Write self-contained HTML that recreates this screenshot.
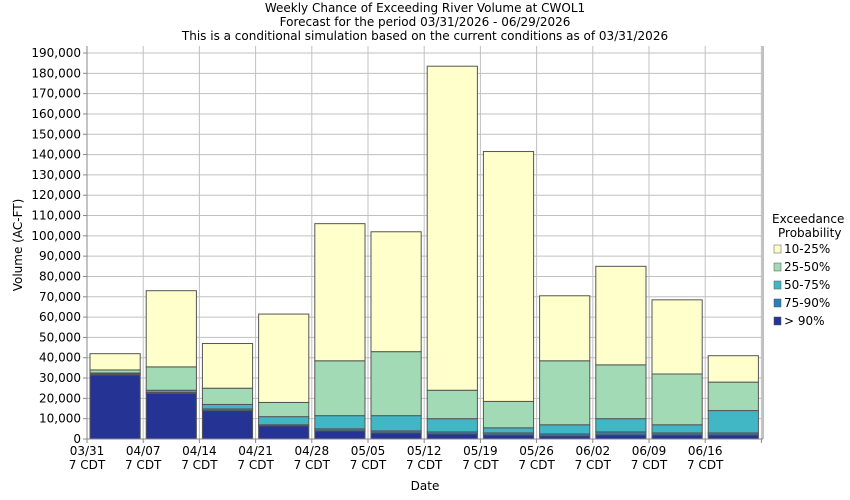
<!DOCTYPE html>
<html><head><meta charset="utf-8"><style>
body{margin:0;background:#fff;}
svg{display:block;font-family:"DejaVu Sans","Liberation Sans",sans-serif;}
</style></head><body>
<svg id="c" width="850" height="500" viewBox="0 0 850 500" xmlns="http://www.w3.org/2000/svg">
<rect width="850" height="500" fill="#fff"/>
<g font-size="12" text-anchor="middle" fill="#000">
<text x="425" y="12">Weekly Chance of Exceeding River Volume at CWOL1</text>
<text x="425" y="26">Forecast for the period 03/31/2026 - 06/29/2026</text>
<text x="425" y="40">This is a conditional simulation based on the current conditions as of 03/31/2026</text>
<text x="425" y="490">Date</text>
<text transform="translate(22,245) rotate(-90)">Volume (AC-FT)</text>
</g>
<g id="g"></g>
<g font-size="12" fill="#000">
<text x="772" y="223">Exceedance</text>
<text x="778" y="237">Probability</text>
<rect x="774" y="245" width="7" height="8" fill="#ffffcc" stroke="#555" stroke-width="0.5"/><text x="784" y="253">10-25%</text>
<rect x="774" y="263" width="7" height="8" fill="#a1dab4" stroke="#555" stroke-width="0.5"/><text x="784" y="271">25-50%</text>
<rect x="774" y="281" width="7" height="8" fill="#41b6c4" stroke="#555" stroke-width="0.5"/><text x="784" y="289">50-75%</text>
<rect x="774" y="299" width="7" height="8" fill="#2c7fb8" stroke="#555" stroke-width="0.5"/><text x="784" y="307">75-90%</text>
<rect x="774" y="317" width="7" height="8" fill="#253494" stroke="#555" stroke-width="0.5"/><text x="784" y="325">&gt; 90%</text>
</g>
</svg>
<script>
var g=document.getElementById('g'),s='';
var x0=87,x1=763,y0=439,k=386/190000,sp=56.2;
function Y(v){return y0-v*k;}
for(var v=10000;v<=190000;v+=10000){s+='<line x1="'+x0+'" x2="'+x1+'" y1="'+Y(v)+'" y2="'+Y(v)+'" stroke="#c0c0c0"/>';}
var d=['03/31','04/07','04/14','04/21','04/28','05/05','05/12','05/19','05/26','06/02','06/09','06/16'];
for(var i=1;i<=12;i++){var x=x0+i*sp;s+='<line x1="'+x+'" x2="'+x+'" y1="46" y2="'+y0+'" stroke="#c0c0c0"/>';}
var data=[[31500,32000,32500,34000,42000],[22500,23000,24000,35500,73000],[14000,14800,17000,25000,47000],[6500,7000,11000,18000,61500],[4000,5000,11500,38500,106000],[3000,4000,11500,43000,102000],[2500,3500,10000,24000,183500],[2000,3000,5500,18500,141500],[1500,2500,7000,38500,70500],[2000,3500,10000,36500,85000],[2000,3000,7000,32000,68500],[2000,3000,14000,28000,41000]];
var col=['#253494','#2c7fb8','#41b6c4','#a1dab4','#ffffcc'];
data.forEach(function(b,i){var bx=x0+i*sp+3,w=sp-6,prev=0;
 b.forEach(function(v,j){s+='<rect x="'+bx+'" y="'+Y(v)+'" width="'+w+'" height="'+(Y(prev)-Y(v))+'" fill="'+col[j]+'" stroke="#555" stroke-width="1"/>';prev=v;});});
s+='<line x1="'+x0+'" x2="'+x0+'" y1="46" y2="'+y0+'" stroke="#888"/>';
s+='<line x1="'+x1+'" x2="'+x1+'" y1="46" y2="'+y0+'" stroke="#c0c0c0" stroke-width="2"/>';
s+='<line x1="'+x0+'" x2="'+x1+'" y1="'+y0+'" y2="'+y0+'" stroke="#888"/>';
for(var v=0;v<=190000;v+=10000){var y=Y(v);s+='<line x1="'+(x0-4)+'" x2="'+x0+'" y1="'+y+'" y2="'+y+'" stroke="#888"/><text x="'+(x0-6)+'" y="'+(y+4)+'" font-size="12" text-anchor="end">'+v.toLocaleString('en-US')+'</text>';}
for(var i=0;i<=12;i++){var x=x0+i*sp;s+='<line x1="'+x+'" x2="'+x+'" y1="'+y0+'" y2="'+(y0+4)+'" stroke="#888"/>';
 if(i<12)s+='<text x="'+x+'" y="455" font-size="12" text-anchor="middle">'+d[i]+'</text><text x="'+x+'" y="469" font-size="12" text-anchor="middle">7 CDT</text>';}
g.innerHTML=s;
</script>
</body></html>
